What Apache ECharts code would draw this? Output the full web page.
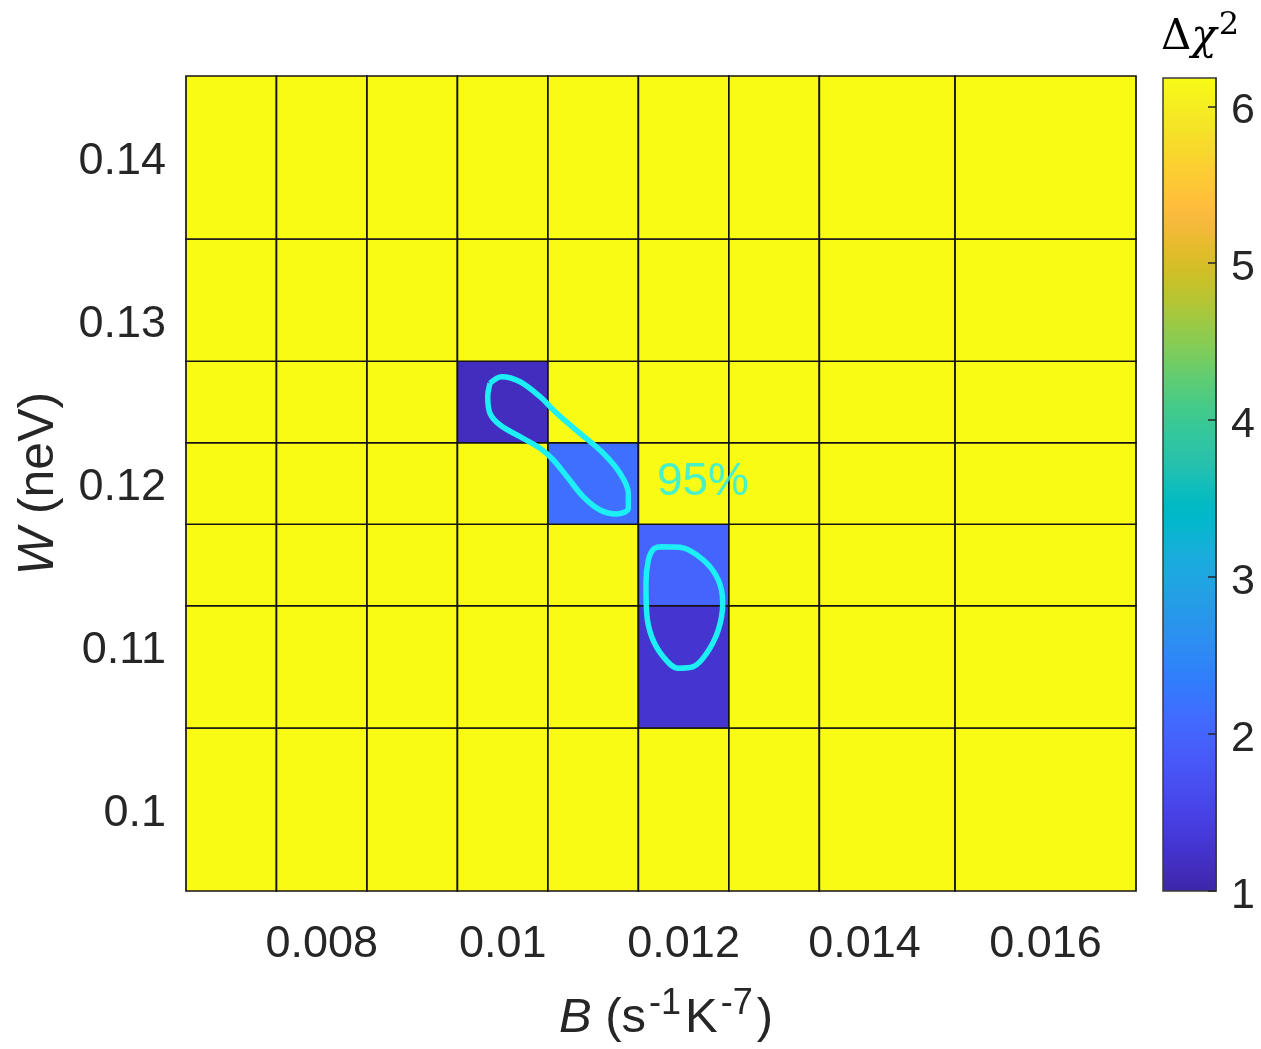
<!DOCTYPE html>
<html><head><meta charset="utf-8">
<script src="https://cdn.jsdelivr.net/npm/echarts@6/dist/echarts.min.js"></script>
<style>html,body{margin:0;padding:0;background:#fff}#c{width:1261px;height:1049px}</style>
</head><body><div id="c"></div>
<script>
// ---- data ----
const xEdges = [0.0065, 0.0075, 0.0085, 0.0095, 0.0105, 0.0115, 0.0125, 0.0135, 0.015, 0.017];
const yEdges = [0.095, 0.105, 0.1125, 0.1175, 0.1225, 0.1275, 0.135, 0.145];
// rows from bottom (W=0.095..0.105) to top; columns follow xEdges
const deltaChi2 = [
  [6.18, 6.18, 6.18, 6.18, 6.18, 6.18, 6.18, 6.18, 6.18],
  [6.18, 6.18, 6.18, 6.18, 6.18, 1.30, 6.18, 6.18, 6.18],
  [6.18, 6.18, 6.18, 6.18, 6.18, 2.00, 6.18, 6.18, 6.18],
  [6.18, 6.18, 6.18, 6.18, 2.15, 6.18, 6.18, 6.18, 6.18],
  [6.18, 6.18, 6.18, 1.15, 6.18, 6.18, 6.18, 6.18, 6.18],
  [6.18, 6.18, 6.18, 6.18, 6.18, 6.18, 6.18, 6.18, 6.18],
  [6.18, 6.18, 6.18, 6.18, 6.18, 6.18, 6.18, 6.18, 6.18]
];
const xTickValues = [0.008, 0.010, 0.012, 0.014, 0.016];
const xTickLabels = ['0.008', '0.01', '0.012', '0.014', '0.016'];
const yTickValues = [0.10, 0.11, 0.12, 0.13, 0.14];
const yTickLabels = ['0.1', '0.11', '0.12', '0.13', '0.14'];
const cbTickValues = [1, 2, 3, 4, 5, 6];
const cbTickLabels = ['1', '2', '3', '4', '5', '6'];
const cbMin = 1, cbMax = 6.18;
const contour1 = [
  [0.009860,0.126147],[0.009989,0.126552],[0.010192,0.126245],[0.010413,0.125325],
  [0.010597,0.124307],[0.010855,0.123080],[0.011112,0.121853],[0.011297,0.120626],
  [0.011389,0.119399],[0.011389,0.118479],[0.011260,0.118129],[0.011076,0.118374],
  [0.010891,0.119190],[0.010725,0.120319],[0.010560,0.121442],[0.010413,0.122160],
  [0.010192,0.122871],[0.009971,0.123589],[0.009860,0.124307],[0.009835,0.125325],
  [0.009860,0.126147]
];
const contour2 = [
  [0.011739,0.116123],[0.011960,0.116086],[0.012218,0.115307],[0.012383,0.114080],
  [0.012432,0.112650],[0.012383,0.111012],[0.012255,0.109583],[0.012107,0.108761],
  [0.011941,0.108663],[0.011775,0.109374],[0.011647,0.110601],[0.011592,0.112037],
  [0.011584,0.113877],[0.011610,0.115307],[0.011665,0.115963],[0.011739,0.116123]
];
const contourLabelText = '95%';
const contourLabelPos = [0.012214, 0.120092];

const parula = ['#3E26A8','#402AB4','#422EC0','#4332CB','#4537D5','#463CDE','#4741E5','#4747EB',
 '#484DF0','#4852F4','#4758F8','#465EFB','#4563FD','#4269FE','#3E6FFF','#3875FE',
 '#327CFC','#2F81FA','#2E87F7','#2D8CF3','#2B91EF','#2796EB','#259BE8','#23A0E5',
 '#20A5E3','#1CA9DF','#18ADDB','#12B1D6','#08B5D0','#01B8CA','#02BAC3','#0BBDBD',
 '#19BFB6','#24C1AE','#2CC4A7','#31C69F','#37C897','#3FCA8E','#4ACB84','#57CC7A',
 '#64CD6F','#72CD64','#81CC59','#8FCB4E','#9DC943','#ABC739','#B9C431','#C5C22A',
 '#D1BF27','#DCBD29','#E6BB2D','#F0BA36','#F8BA3D','#FEBE3C','#FEC338','#FEC934',
 '#FCCF30','#FAD62D','#F7DC2A','#F5E327','#F5E924','#F6EF20','#F7F51B','#F9FB15'];

// ---- build ----
const cellData = [];
for (let r = 0; r < deltaChi2.length; r++) {
  for (let c = 0; c < deltaChi2[r].length; c++) {
    cellData.push([xEdges[c], xEdges[c + 1], yEdges[r], yEdges[r + 1], deltaChi2[r][c]]);
  }
}
function labelFor(values, labels, richKey) {
  return function (v) {
    for (let i = 0; i < values.length; i++) {
      if (Math.abs(values[i] - v) < 1e-9) return richKey ? '{' + richKey + '|' + labels[i] + '}' : labels[i];
    }
    return '';
  };
}
const FONT = 'Liberation Sans, Arial, Helvetica, sans-serif';
const TXT = '#262626';
const CYAN = '#1CF0F5';
const gradStops = parula.map((c, i) => ({ offset: i / (parula.length - 1), color: parula[parula.length - 1 - i] }));

const chart = echarts.init(document.getElementById('c'), null, { renderer: 'canvas' });
chart.setOption({
  animation: false,
  backgroundColor: '#fff',
  title: {
    text: '{d|Δ}{c|χ}{s|2}',
    left: 1156, top: 5,
    textStyle: {
      fontWeight: 'normal',
      rich: {
        d: { fontFamily: 'DejaVu Serif', fontWeight: 'normal', fontSize: 42, color: '#000', lineHeight: 56 },
        c: { fontFamily: 'DejaVu Serif', fontWeight: 'normal', fontStyle: 'italic', fontSize: 42, color: '#000', lineHeight: 56, padding: [0, 2, 0, 0] },
        s: { fontFamily: 'DejaVu Serif', fontWeight: 'normal', fontSize: 32, color: '#000', verticalAlign: 'top', lineHeight: 38 }
      }
    }
  },
  grid: [
    { left: 186, top: 76, width: 950, height: 815, outerBoundsMode: 'none', containLabel: false },
    { left: 1163, top: 78, width: 53, height: 813, outerBoundsMode: 'none', containLabel: false }
  ],
  visualMap: {
    type: 'continuous', show: false, min: cbMin, max: cbMax, dimension: 4, seriesIndex: 0,
    inRange: { color: parula }
  },
  xAxis: [
    {
      type: 'value', gridIndex: 0, min: xEdges[0], max: xEdges[xEdges.length - 1],
      axisLine: { show: false }, axisTick: { show: false }, splitLine: { show: false },
      axisLabel: {
        customValues: xTickValues, formatter: labelFor(xTickValues, xTickLabels),
        fontSize: 45, fontFamily: FONT, color: TXT, margin: 31
      },
      name: '{i|B} (s{s|-1}K{s|-7})',
      nameLocation: 'middle', nameGap: 95, nameTextStyle: {
        fontSize: 49, fontFamily: FONT, color: TXT, lineHeight: 64,
        padding: [0, 0, 0, 10],
        rich: {
          i: { fontStyle: 'italic', fontSize: 49, fontFamily: FONT, color: TXT, lineHeight: 64 },
          s: { fontSize: 36, fontFamily: FONT, color: TXT, verticalAlign: 'top', lineHeight: 30, padding: [0, 4, 0, 3] }
        }
      }
    },
    { type: 'value', gridIndex: 1, min: 0, max: 1, show: false }
  ],
  yAxis: [
    {
      type: 'value', gridIndex: 0, min: yEdges[0], max: yEdges[yEdges.length - 1],
      axisLine: { show: false }, axisTick: { show: false }, splitLine: { show: false },
      axisLabel: {
        customValues: yTickValues, formatter: labelFor(yTickValues, yTickLabels, 'v'),
        fontSize: 45, fontFamily: FONT, color: TXT, margin: 20,
        rich: { v: { fontSize: 45, fontFamily: FONT, color: TXT, padding: [9, 0, 0, 0] } }
      },
      name: '{i|W} (neV)',
      nameLocation: 'middle', nameGap: 122, nameRotate: 90,
      nameTextStyle: {
        fontSize: 50, fontFamily: FONT, color: TXT,
        rich: { i: { fontStyle: 'italic', fontSize: 50, fontFamily: FONT, color: TXT } }
      }
    },
    {
      type: 'value', gridIndex: 1, min: cbMin, max: cbMax, position: 'right', z: 10,
      axisLine: { show: true, onZero: false, lineStyle: { color: '#3a3a3a', width: 1.5 } },
      axisTick: { show: true, inside: true, length: 8, customValues: cbTickValues, lineStyle: { color: '#262626', width: 1.5 } },
      splitLine: { show: false },
      axisLabel: {
        customValues: cbTickValues, formatter: labelFor(cbTickValues, cbTickLabels, 'v'),
        fontSize: 43, fontFamily: FONT, color: TXT, margin: 15,
        rich: { v: { fontSize: 43, fontFamily: FONT, color: TXT, padding: [10, 0, 0, 0] } }
      }
    }
  ],
  series: [
    {
      type: 'custom', xAxisIndex: 0, yAxisIndex: 0, z: 1,
      encode: { x: [0, 1], y: [2, 3] },
      data: cellData,
      renderItem: function (params, api) {
        const p0 = api.coord([api.value(0), api.value(2)]);
        const p1 = api.coord([api.value(1), api.value(3)]);
        return {
          type: 'rect',
          shape: { x: p0[0], y: p1[1], width: p1[0] - p0[0], height: p0[1] - p1[1] },
          style: { fill: api.visual('color'), stroke: '#141414', lineWidth: 1.7 }
        };
      }
    },
    {
      type: 'custom', xAxisIndex: 1, yAxisIndex: 1, z: 2,
      data: [[0, 1, cbMin, cbMax]],
      encode: { x: [0, 1], y: [2, 3] },
      renderItem: function (params, api) {
        const p0 = api.coord([api.value(0), api.value(2)]);
        const p1 = api.coord([api.value(1), api.value(3)]);
        return {
          type: 'rect',
          shape: { x: p0[0], y: p1[1], width: p1[0] - p0[0], height: p0[1] - p1[1] },
          style: { fill: new echarts.graphic.LinearGradient(0, 0, 0, 1, gradStops), stroke: '#3a3a3a', lineWidth: 1.5 }
        };
      }
    },
    {
      type: 'line', xAxisIndex: 0, yAxisIndex: 0, z: 5, data: contour1, smooth: 0.35,
      symbol: 'none', lineStyle: { color: CYAN, width: 5.5 }
    },
    {
      type: 'line', xAxisIndex: 0, yAxisIndex: 0, z: 5, data: contour2, smooth: 0.35,
      symbol: 'none', lineStyle: { color: CYAN, width: 5.5 }
    },
    {
      type: 'scatter', xAxisIndex: 0, yAxisIndex: 0, z: 6, data: [contourLabelPos],
      symbolSize: 1, itemStyle: { color: 'rgba(0,0,0,0)' },
      label: { show: true, position: 'inside', formatter: contourLabelText, fontSize: 46, fontFamily: FONT, color: CYAN }
    }
  ]
});
</script>
</body></html>
